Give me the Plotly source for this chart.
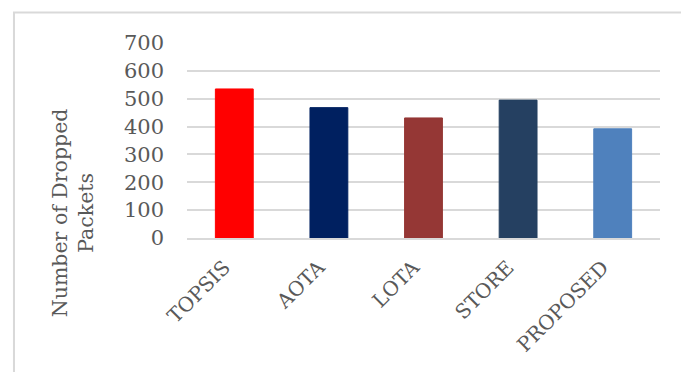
import plotly.graph_objects as go

# Dropped packets per scheme
methods = ["TOPSIS", "AOTA", "LOTA", "STORE", "PROPOSED"]
dropped = [535, 468, 431, 495, 392]
bar_colors = ["#FF0000", "#002060", "#953735", "#254061", "#4F81BD"]
y_ticks = [0, 100, 200, 300, 400, 500, 600, 700]

FONT = "DejaVu Serif"
GRAY = "#595959"

fig = go.Figure(
    go.Bar(
        x=methods,
        y=dropped,
        marker=dict(color=bar_colors, line=dict(color=bar_colors, width=1)),
        width=0.4,
    )
)

fig.update_layout(
    width=681,
    height=372,
    margin=dict(l=187, r=21, t=43, b=134),
    paper_bgcolor="white",
    plot_bgcolor="white",
    showlegend=False,
    font=dict(family=FONT, color=GRAY, size=20),
)

fig.update_yaxes(
    range=[0, 700],
    tickvals=y_ticks,
    showgrid=True,
    gridcolor="#d9d9d9",
    gridwidth=1.5,
    zeroline=False,
    showline=False,
    ticks="",
    ticklabelstandoff=22,
    tickfont=dict(family=FONT, color=GRAY, size=21),
)

fig.update_xaxes(
    showline=True,
    linecolor="#d9d9d9",
    linewidth=1.5,
    ticks="",
    tickangle=-45,
    ticklabelstandoff=8,
    ticklabelshift=-10,
    tickfont=dict(family=FONT, color=GRAY, size=20),
)

# Axis title as two centred lines
fig.add_annotation(
    text="Number of Dropped<br>Packets",
    xref="paper",
    yref="paper",
    x=-0.241,
    y=0.127,
    textangle=-90,
    showarrow=False,
    font=dict(family=FONT, color=GRAY, size=20.5),
    xanchor="center",
    yanchor="middle",
)

# Chart frame
fig.add_shape(
    type="rect",
    xref="paper",
    yref="paper",
    x0=-0.3658,
    y0=-1.0,
    x1=1.2,
    y1=1.156,
    line=dict(color="#d9d9d9", width=2),
    fillcolor="rgba(0,0,0,0)",
    layer="below",
)

fig.write_html("out.html")
